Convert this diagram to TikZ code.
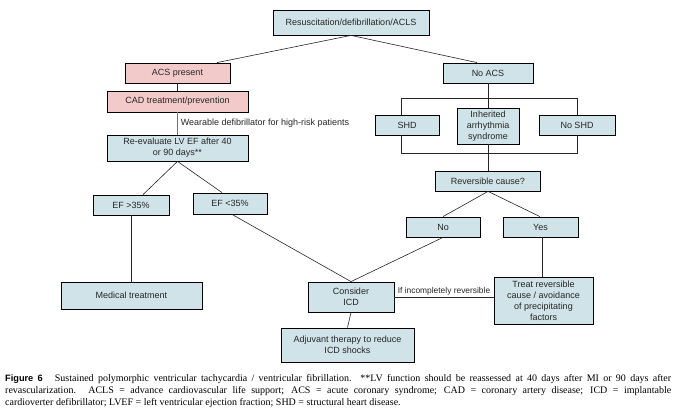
\documentclass[tikz,border=0pt]{standalone}
\usepackage{fontspec}
\setmainfont{Liberation Sans}
\newfontfamily\capfont{Liberation Serif}
\newfontfamily\capsans{Liberation Sans}
\definecolor{boxblue}{RGB}{208,227,232}
\definecolor{boxpink}{RGB}{242,202,202}
\tikzset{
  bx/.style={draw=black, line width=0.8pt, fill=boxblue, inner sep=1pt, align=center,
    font=\fontsize{9}{11}\selectfont, text=black!85},
  pk/.style={bx, fill=boxpink},
  ln/.style={line width=0.6pt, draw=black!85},
  lbl/.style={font=\fontsize{9}{11}\selectfont, text=black!85, inner sep=1pt}
}
\begin{document}
\begin{tikzpicture}[x=1pt,y=-1pt]
\useasboundingbox[fill=white] (0,0) rectangle (677,414);
% boxes
\node[bx, minimum width=156pt, minimum height=25pt] (res) at (351,22.5) {Resuscitation/defibrillation/ACLS};
\node[pk, minimum width=105pt, minimum height=20pt] (acs) at (177.5,73) {ACS present};
\node[pk, minimum width=141pt, minimum height=21pt] (cad) at (177.5,101.5) {CAD treatment/prevention};
\node[bx, minimum width=141pt, minimum height=26pt] (reeval) at (177.5,148) {Re-evaluate LV EF after 40\\or 90 days**};
\node[bx, minimum width=76pt, minimum height=20pt] (efgt) at (131,205) {EF >35\%};
\node[bx, minimum width=74pt, minimum height=21pt] (eflt) at (230,203.5) {EF <35\%};
\node[bx, minimum width=141pt, minimum height=27pt] (med) at (131.5,295.5) {Medical treatment};
\node[bx, minimum width=90pt, minimum height=20pt] (noacs) at (488,73) {No ACS};
\node[bx, minimum width=64pt, minimum height=20pt] (shd) at (407,125) {SHD};
\node[bx, minimum width=62pt, minimum height=36pt] (inh) at (488,126) {Inherited\\arrhythmia\\syndrome};
\node[bx, minimum width=76pt, minimum height=20pt] (noshd) at (577,125) {No SHD};
\node[bx, minimum width=105pt, minimum height=20pt] (rev) at (488,181) {Reversible cause?};
\node[bx, minimum width=74pt, minimum height=20pt] (no) at (443,227) {No};
\node[bx, minimum width=75pt, minimum height=20pt] (yes) at (540.5,227) {Yes};
\node[bx, minimum width=99pt, minimum height=47pt] (treat) at (543.5,300.5) {Treat reversible\\cause / avoidance\\of precipitating\\factors};
\node[bx, minimum width=86pt, minimum height=30pt] (icd) at (351,297) {Consider\\ICD};
\node[bx, minimum width=133pt, minimum height=34pt] (adj) at (347.5,345) {Adjuvant therapy to reduce\\ICD shocks};
% connectors
\coordinate (brTL) at (401,98);
\coordinate (brTR) at (577,98);
\coordinate (brBL) at (401,153);
\coordinate (brBR) at (577,153);
\draw[ln] (res.south) -- ([xshift=39.5pt]acs.north);
\draw[ln] (res.south) -- ([xshift=-11pt]noacs.north);
\draw[ln] (acs.south) -- (cad.north);
\draw[ln, draw=black!55] (cad.south) -- node[lbl, anchor=west, pos=0.5, xshift=2pt] {Wearable defibrillator for high-risk patients} (reeval.north);
\draw[ln] (reeval.south) -- ([xshift=12pt]efgt.north);
\draw[ln] (reeval.south) -- ([xshift=-8pt]eflt.north);
\draw[ln] (efgt.south) -- (efgt.south |- med.north);
\draw[ln] ([xshift=2pt]eflt.south) -- (icd.north);
\draw[ln] (noacs.south) -- (inh.north);
\draw[ln] (brTL) -- (brTR);
\draw[ln] (brTL) -- (brTL |- shd.north);
\draw[ln] (brTR) -- (noshd.north);
\draw[ln] (brTL |- shd.south) -- (brBL) -- (brBR) -- (noshd.south);
\draw[ln] (inh.south) -- (rev.north);
\draw[ln] (rev.south) -- (no.north);
\draw[ln] (rev.south) -- ([xshift=-0.5pt]yes.north);
\draw[ln] ([xshift=1.5pt]yes.south) -- ([xshift=1.5pt]yes.south |- treat.north);
\draw[ln] (no.south) -- (icd.north);
\draw[ln] (icd.east) -- node[lbl, above, pos=0.5, font=\fontsize{8.4}{10}\selectfont] {If incompletely reversible} (icd.east -| treat.west);
\draw[ln] (icd.south) -- (adj.north);
% caption
\node[anchor=north west, inner sep=0pt, text width=666pt, align=justify,
  font=\capfont\fontsize{10}{12}\selectfont] (cap) at (5,374)
  {\noindent{\capsans\bfseries\fontsize{9.2}{12}\selectfont Figure 6}\hspace{12pt}Sustained polymorphic ventricular tachycardia / ventricular fibrillation. **LV function should be reassessed at 40 days after MI or 90 days after\linebreak revascularization. ACLS = advance cardiovascular life support; ACS = acute coronary syndrome; CAD = coronary artery disease; ICD = implantable\linebreak cardioverter defibrillator; LVEF = left ventricular ejection fraction; SHD = structural heart disease.};
\end{tikzpicture}
\end{document}
